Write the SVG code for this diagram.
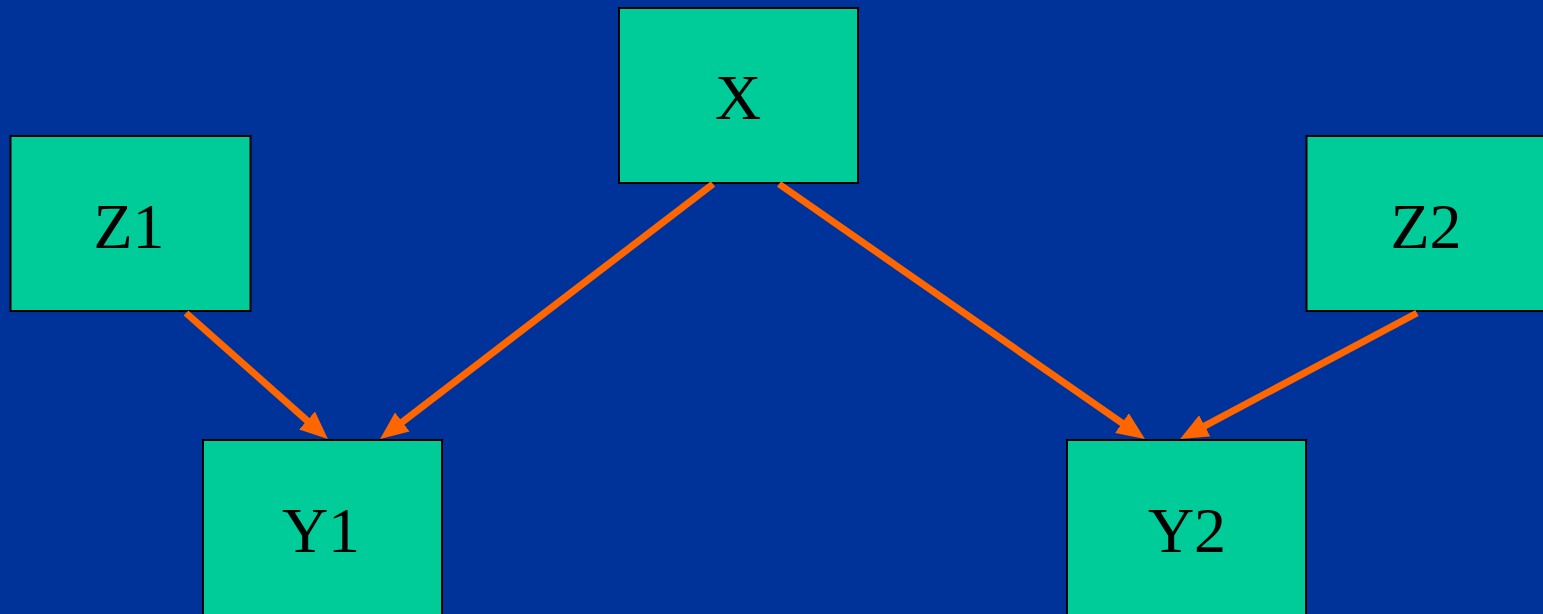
<svg xmlns="http://www.w3.org/2000/svg" width="1543" height="614" viewBox="0 0 1543 614">
<style>
.box{fill:#00CC99;stroke:#000;stroke-width:2}
.lbl{font-family:"Liberation Serif","Times New Roman",serif;font-size:64px;fill:#000;text-anchor:middle}
.edge{stroke:#FF6600;stroke-width:7;fill:none;marker-end:url(#ah)}
</style>
<defs>
<marker id="ah" markerUnits="userSpaceOnUse" markerWidth="28" markerHeight="24" viewBox="0 0 28 24" refX="2" refY="12" orient="auto">
<path d="M0,0 L28,12 L0,24 z" fill="#FF6600"/>
</marker>
</defs>
<rect width="1543" height="614" fill="#003399"/>
<g id="node-X"><rect class="box" x="619" y="8" width="239" height="175"/><text class="lbl" x="738" y="119">X</text></g>
<g id="node-Z1"><rect class="box" x="10.5" y="136" width="240" height="175"/><text class="lbl" x="129" y="248">Z1</text></g>
<g id="node-Z2"><rect class="box" x="1306.5" y="136" width="240" height="175"/><text class="lbl" x="1426" y="248">Z2</text></g>
<g id="node-Y1"><rect class="box" x="203" y="440" width="239" height="180"/><text class="lbl" x="321" y="552">Y1</text></g>
<g id="node-Y2"><rect class="box" x="1067" y="440" width="239" height="180"/><text class="lbl" x="1187" y="552">Y2</text></g>
<g id="connectors">
<line class="edge" x1="186" y1="313" x2="308.5" y2="421.8"/>
<line class="edge" x1="713" y1="184" x2="400.7" y2="423.2"/>
<line class="edge" x1="779" y1="184" x2="1123.6" y2="424.2"/>
<line class="edge" x1="1417" y1="313" x2="1203" y2="426.8"/>
</g>
</svg>
